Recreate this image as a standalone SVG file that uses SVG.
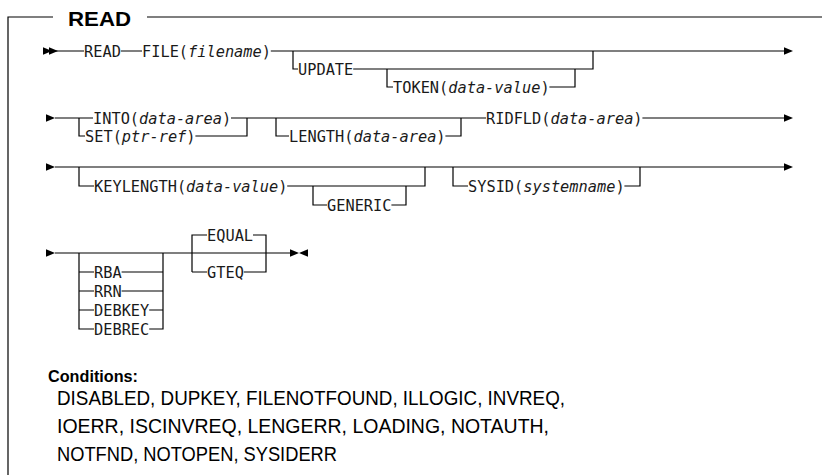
<svg xmlns="http://www.w3.org/2000/svg" width="828" height="475" viewBox="0 0 828 475">
<style>
.ln{stroke:#000;stroke-width:1.2;fill:none}
.ah{fill:#000;stroke:none}
.kw{font-family:"DejaVu Sans Mono","Liberation Mono",monospace;font-size:15.3px;fill:#1a1a1a}
.it{font-style:italic}
.ttl{font-family:"Liberation Sans",Arial,sans-serif;font-weight:bold;font-size:21px;fill:#000}
.hd{font-family:"Liberation Sans",Arial,sans-serif;font-weight:bold;font-size:17px;fill:#000}
.cd{font-family:"Liberation Sans",Arial,sans-serif;font-size:19.5px;fill:#000}
</style>
<defs>
<polygon id="arr" points="0,-3.8 9,0 0,3.8"/>
</defs>
<g id="frame">
<path class="ln" d="M8,475 V17 H53 M147,17 H822"/>
<text class="ttl" x="68" y="26" textLength="63" lengthAdjust="spacingAndGlyphs">READ</text>
</g>
<g id="connectors">
<use href="#arr" class="ah" x="43" y="51"/>
<use href="#arr" class="ah" x="49" y="51"/>
<path class="ln" d="M56,51 H84 M120.8,51 H142 M270.8,51 H784"/>
<use href="#arr" class="ah" x="784" y="51"/>
<path class="ln" d="M293,51 V69 H298 M353.2,69 H593 V51"/>
<path class="ln" d="M387,69 V87 H393 M549.4,87 H575 V69"/>
<use href="#arr" class="ah" x="46" y="118"/>
<path class="ln" d="M55,118 H93 M231,118 H486 M642.4,118 H784"/>
<use href="#arr" class="ah" x="784" y="118"/>
<path class="ln" d="M79,118 V136 H85 M195.4,136 H247 V118"/>
<path class="ln" d="M276,118 V136 H289 M445.4,136 H461 V118"/>
<use href="#arr" class="ah" x="46" y="167"/>
<path class="ln" d="M55,167 H784"/>
<use href="#arr" class="ah" x="784" y="167"/>
<path class="ln" d="M79,167 V186 H94 M287.2,186 H425 V167"/>
<path class="ln" d="M313,186 V205 H327 M391.4,205 H406 V186"/>
<path class="ln" d="M453,167 V186 H468 M624.4,186 H640 V167"/>
<use href="#arr" class="ah" x="46" y="253"/>
<path class="ln" d="M55,253 H290"/>
<path class="ln" d="M79,253 V329 H94 M79,272 H94 M79,291 H94 M79,310 H94"/>
<path class="ln" d="M121.6,272 H163 M121.6,291 H163 M149.2,310 H163 M149.2,329 H163 V253"/>
<path class="ln" d="M192,272 V235 H207 M253,235 H266 V272 H243.8 M192,272 H207"/>
<use href="#arr" class="ah" x="290" y="253"/>
<polygon class="ah" points="308,249.2 299,253 308,256.8"/>
</g>
<g id="n-read"><text class="kw" x="84" y="56.5">READ</text></g>
<g id="n-file"><text class="kw" x="142" y="56.5">FILE(<tspan class="it">filename</tspan>)</text></g>
<g id="n-update"><text class="kw" x="298" y="74.5">UPDATE</text></g>
<g id="n-token"><text class="kw" x="393" y="92.5">TOKEN(<tspan class="it">data-value</tspan>)</text></g>
<g id="n-into"><text class="kw" x="93" y="123.5">INTO(<tspan class="it">data-area</tspan>)</text></g>
<g id="n-set"><text class="kw" x="85" y="141.5">SET(<tspan class="it">ptr-ref</tspan>)</text></g>
<g id="n-length"><text class="kw" x="289" y="141.5">LENGTH(<tspan class="it">data-area</tspan>)</text></g>
<g id="n-ridfld"><text class="kw" x="486" y="123.5">RIDFLD(<tspan class="it">data-area</tspan>)</text></g>
<g id="n-keylength"><text class="kw" x="94" y="191.5">KEYLENGTH(<tspan class="it">data-value</tspan>)</text></g>
<g id="n-generic"><text class="kw" x="327" y="210.5">GENERIC</text></g>
<g id="n-sysid"><text class="kw" x="468" y="191.5">SYSID(<tspan class="it">systemname</tspan>)</text></g>
<g id="n-rba"><text class="kw" x="94" y="277.5">RBA</text></g>
<g id="n-rrn"><text class="kw" x="94" y="296.5">RRN</text></g>
<g id="n-debkey"><text class="kw" x="94" y="315.5">DEBKEY</text></g>
<g id="n-debrec"><text class="kw" x="94" y="334.5">DEBREC</text></g>
<g id="n-equal"><text class="kw" x="207" y="240.5">EQUAL</text></g>
<g id="n-gteq"><text class="kw" x="207" y="277.5">GTEQ</text></g>
<g id="conditions">
<text class="hd" x="48" y="382" textLength="90" lengthAdjust="spacingAndGlyphs">Conditions:</text>
<text class="cd" x="57" y="405" textLength="508" lengthAdjust="spacingAndGlyphs">DISABLED, DUPKEY, FILENOTFOUND, ILLOGIC, INVREQ,</text>
<text class="cd" x="57" y="433" textLength="492" lengthAdjust="spacingAndGlyphs">IOERR, ISCINVREQ, LENGERR, LOADING, NOTAUTH,</text>
<text class="cd" x="57" y="461" textLength="280" lengthAdjust="spacingAndGlyphs">NOTFND, NOTOPEN, SYSIDERR</text>
</g>
</svg>
